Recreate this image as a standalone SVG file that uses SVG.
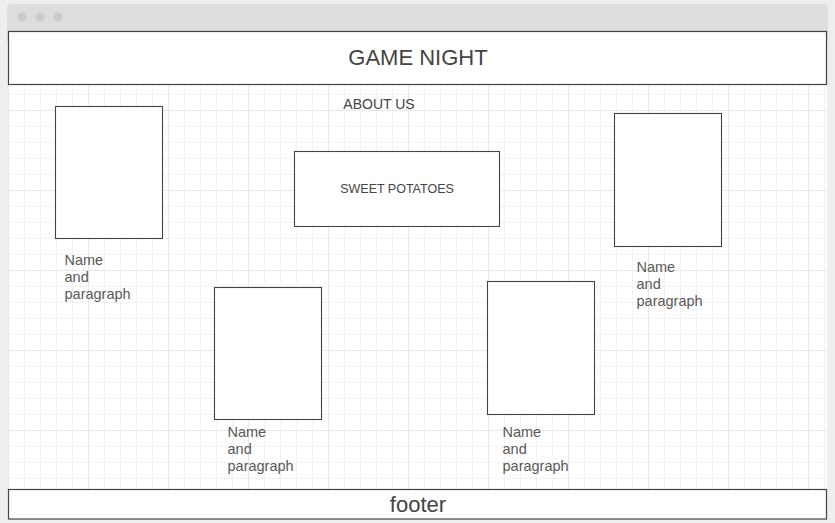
<svg xmlns="http://www.w3.org/2000/svg" width="835" height="523" viewBox="0 0 835 523">
  <style>
    .frame { fill: #ffffff; stroke: #444444; stroke-width: 1.2; }
    .card { fill: #ffffff; stroke: #444444; stroke-width: 1.1; }
    .title { font-family: "Liberation Sans", Arial, sans-serif; fill: #444444; }
    .label { font-family: "Liberation Sans", Arial, sans-serif; font-size: 14.5px; fill: #595959; }
  </style>
  <defs>
    <pattern id="grid" patternUnits="userSpaceOnUse" x="8" y="30" width="80" height="80">
      <path d="M16.5 0V80M32.5 0V80M48.5 0V80M64.5 0V80M0 16.5H80M0 32.5H80M0 48.5H80M0 64.5H80" stroke="#f2f2f2" stroke-width="1" fill="none"/>
      <path d="M0.5 0V80M0 0.5H80" stroke="#e8e8e8" stroke-width="1" fill="none"/>
    </pattern>
  </defs>

  <!-- page background -->
  <rect x="0" y="0" width="835" height="523" fill="#eeeeee"/>

  <!-- browser window -->
  <g id="window">
    <rect x="7" y="4" width="821" height="40" rx="5" fill="#dddddd"/>
    <rect x="8" y="31" width="819" height="488" fill="#ffffff"/>
    <rect x="8" y="84" width="819" height="406" fill="url(#grid)"/>
    <circle cx="22" cy="17" r="4.5" fill="#cccccc"/>
    <circle cx="40" cy="17" r="4.5" fill="#cccccc"/>
    <circle cx="58" cy="17" r="4.5" fill="#cccccc"/>
  </g>

  <g id="header">
    <rect class="frame" x="8.5" y="31.5" width="818" height="53"/>
    <text class="title" x="418" y="65" font-size="22" text-anchor="middle">GAME NIGHT</text>
  </g>

  <g id="about">
    <text class="title" x="379" y="109" font-size="14" text-anchor="middle">ABOUT US</text>
  </g>

  <g id="banner">
    <rect class="card" x="294.5" y="151.5" width="205" height="75"/>
    <text class="title" x="397" y="193" font-size="12.5" text-anchor="middle">SWEET POTATOES</text>
  </g>

  <g id="member-1">
    <rect class="card" x="55.5" y="106.5" width="107" height="132"/>
    <text class="label" x="64.5" y="265">Name</text>
    <text class="label" x="64.5" y="282">and</text>
    <text class="label" x="64.5" y="299">paragraph</text>
  </g>

  <g id="member-2">
    <rect class="card" x="614.5" y="113.5" width="107" height="133"/>
    <text class="label" x="636.5" y="272">Name</text>
    <text class="label" x="636.5" y="289">and</text>
    <text class="label" x="636.5" y="306">paragraph</text>
  </g>

  <g id="member-3">
    <rect class="card" x="214.5" y="287.5" width="107" height="132"/>
    <text class="label" x="227.5" y="437">Name</text>
    <text class="label" x="227.5" y="454">and</text>
    <text class="label" x="227.5" y="471">paragraph</text>
  </g>

  <g id="member-4">
    <rect class="card" x="487.5" y="281.5" width="107" height="133"/>
    <text class="label" x="502.5" y="437">Name</text>
    <text class="label" x="502.5" y="454">and</text>
    <text class="label" x="502.5" y="471">paragraph</text>
  </g>

  <g id="footer">
    <rect class="frame" x="8.5" y="489.5" width="818" height="29.5"/>
    <text class="title" x="418" y="512" font-size="22" text-anchor="middle">footer</text>
  </g>

  <g id="connectors"/>
</svg>
